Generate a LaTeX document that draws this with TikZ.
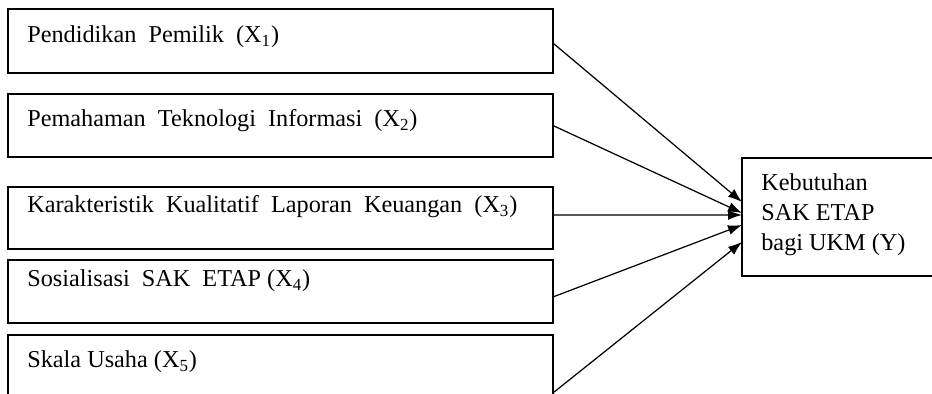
\documentclass[tikz,border=0pt]{standalone}
\usepackage{fontspec}
\setmainfont{Liberation Serif}
\usetikzlibrary{arrows.meta}

\begin{document}
\begin{tikzpicture}[x=0.02cm, y=-0.02cm,
        kotak/.style={draw, line width=1.1pt, minimum width=10.9cm, minimum height=1.26cm,
            anchor=north west, inner sep=0pt, outer sep=0pt},
        teks/.style={anchor=base west, inner sep=0pt, font=\fontsize{13.8}{17}\selectfont},
        panah/.style={-{Latex[length=0.28cm, width=0.2cm]}, line width=0.7pt}]

    \clip (0,0) rectangle (932,394);

    % variabel bebas
    \node[kotak, minimum height=1.28cm] (x1) at (8,9) {};
    \node[kotak] (x2) at (8,94) {};
    \node[kotak, minimum height=1.24cm] (x3) at (8,187) {};
    \node[kotak] (x4) at (8,260) {};
    \node[kotak] (x5) at (8,335) {};

    \node[teks] (t1) at (27,43) {Pendidikan\ \ Pemilik\ \ (X\textsubscript{1})};
    \node[teks] (t2) at (27,127) {Pemahaman\ \ Teknologi\ \ Informasi\ \ (X\textsubscript{2})};
    \node[teks] (t3) at (27,213) {Karakteristik\ \ Kualitatif\ \ Laporan\ \ Keuangan\ \ (X\textsubscript{3})};
    \node[teks] (t4) at (27,287) {Sosialisasi\ \ SAK\ \ ETAP\ (X\textsubscript{4})};
    \node[teks] (t5) at (27,368) {Skala Usaha (X\textsubscript{5})};

    % variabel terikat
    \node[kotak, minimum width=4cm, minimum height=2.36cm] (kb) at (742,158) {};
    \node[teks, anchor=north west, align=left] (tk) at (761,173.4)
        {Kebutuhan\\SAK ETAP\\bagi UKM (Y)};

    \draw[panah] ([yshift=-0.04cm]x1.east) -- ([yshift=0.3cm]kb.west);
    \draw[panah] (x2.east) -- ([yshift=0.08cm]kb.west);
    \draw[panah] ([yshift=0.06cm]x3.east) -- ([yshift=0.04cm]kb.west);
    \draw[panah] ([yshift=-0.11cm]x4.east) -- ([yshift=-0.16cm]kb.west);
    \draw[panah] ([yshift=-0.53cm]x5.east) -- ([yshift=-0.5cm]kb.west);

\end{tikzpicture}
\end{document}
